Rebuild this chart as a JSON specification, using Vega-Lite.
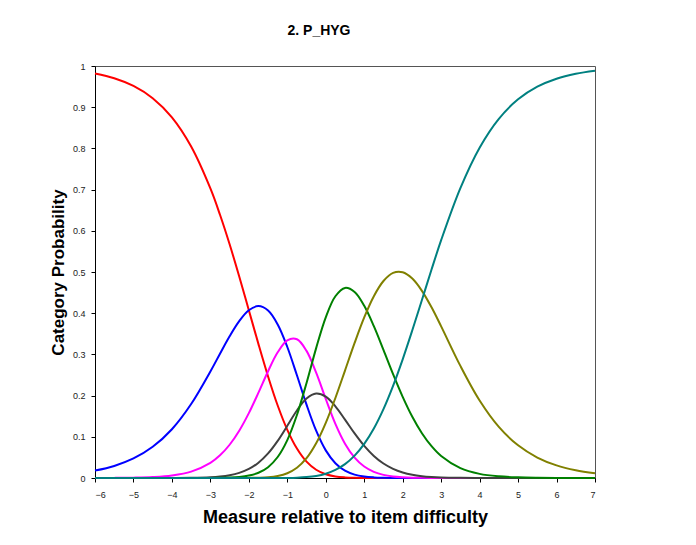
{
  "$schema": "https://vega.github.io/schema/vega-lite/v6.json",
  "width": 500,
  "height": 412,
  "autosize": "none",
  "padding": {"left": 95, "top": 66, "right": 101, "bottom": 67},
  "background": "white",
  "title": {"text": "2. P_HYG", "font": "Liberation Sans", "fontSize": 14, "fontWeight": "bold", "color": "#000000", "frame": "group", "anchor": "middle", "dx": -26, "baseline": "alphabetic", "offset": 13},
  "config": {
    "view": {"stroke": "#555555", "strokeWidth": 1},
    "axis": {"grid": false, "domainColor": "#000000", "domainWidth": 1, "tickColor": "#000000", "tickSize": 4, "labelFont": "Liberation Sans", "labelFontSize": 9, "labelColor": "#222222", "titleFont": "Liberation Sans", "titleFontWeight": "bold", "titleColor": "#000000"}
  },
  "data": {"values": [
    {"x":-6,"cat":"0","p":0.9819},{"x":-6,"cat":"1","p":0.0180},{"x":-6,"cat":"2","p":0.0001},{"x":-6,"cat":"3","p":0},{"x":-6,"cat":"4","p":0},{"x":-6,"cat":"5","p":0},{"x":-6,"cat":"6","p":0},
    {"x":-5.5,"cat":"0","p":0.9704},{"x":-5.5,"cat":"1","p":0.0293},{"x":-5.5,"cat":"2","p":0.0003},{"x":-5.5,"cat":"3","p":0},{"x":-5.5,"cat":"4","p":0},{"x":-5.5,"cat":"5","p":0},{"x":-5.5,"cat":"6","p":0},
    {"x":-5,"cat":"0","p":0.9517},{"x":-5,"cat":"1","p":0.0474},{"x":-5,"cat":"2","p":0.0009},{"x":-5,"cat":"3","p":0},{"x":-5,"cat":"4","p":0},{"x":-5,"cat":"5","p":0},{"x":-5,"cat":"6","p":0},
    {"x":-4.5,"cat":"0","p":0.9219},{"x":-4.5,"cat":"1","p":0.0757},{"x":-4.5,"cat":"2","p":0.0024},{"x":-4.5,"cat":"3","p":0},{"x":-4.5,"cat":"4","p":0},{"x":-4.5,"cat":"5","p":0},{"x":-4.5,"cat":"6","p":0},
    {"x":-4,"cat":"0","p":0.8753},{"x":-4,"cat":"1","p":0.1184},{"x":-4,"cat":"2","p":0.0062},{"x":-4,"cat":"3","p":0.0001},{"x":-4,"cat":"4","p":0},{"x":-4,"cat":"5","p":0},{"x":-4,"cat":"6","p":0},
    {"x":-3.5,"cat":"0","p":0.8045},{"x":-3.5,"cat":"1","p":0.1795},{"x":-3.5,"cat":"2","p":0.0155},{"x":-3.5,"cat":"3","p":0.0005},{"x":-3.5,"cat":"4","p":0},{"x":-3.5,"cat":"5","p":0},{"x":-3.5,"cat":"6","p":0},
    {"x":-3,"cat":"0","p":0.7027},{"x":-3,"cat":"1","p":0.2585},{"x":-3,"cat":"2","p":0.0368},{"x":-3,"cat":"3","p":0.0019},{"x":-3,"cat":"4","p":0.0002},{"x":-3,"cat":"5","p":0},{"x":-3,"cat":"6","p":0},
    {"x":-2.75,"cat":"0","p":0.6389},{"x":-2.75,"cat":"1","p":0.3018},{"x":-2.75,"cat":"2","p":0.0551},{"x":-2.75,"cat":"3","p":0.0036},{"x":-2.75,"cat":"4","p":0.0005},{"x":-2.75,"cat":"5","p":0},{"x":-2.75,"cat":"6","p":0},
    {"x":-2.5,"cat":"0","p":0.5673},{"x":-2.5,"cat":"1","p":0.3441},{"x":-2.5,"cat":"2","p":0.0807},{"x":-2.5,"cat":"3","p":0.0068},{"x":-2.5,"cat":"4","p":0.0011},{"x":-2.5,"cat":"5","p":0},{"x":-2.5,"cat":"6","p":0},
    {"x":-2.25,"cat":"0","p":0.4891},{"x":-2.25,"cat":"1","p":0.3809},{"x":-2.25,"cat":"2","p":0.1148},{"x":-2.25,"cat":"3","p":0.0125},{"x":-2.25,"cat":"4","p":0.0026},{"x":-2.25,"cat":"5","p":0.0001},{"x":-2.25,"cat":"6","p":0},
    {"x":-2,"cat":"0","p":0.4072},{"x":-2,"cat":"1","p":0.4072},{"x":-2,"cat":"2","p":0.1575},{"x":-2,"cat":"3","p":0.0219},{"x":-2,"cat":"4","p":0.0059},{"x":-2,"cat":"5","p":0.0003},{"x":-2,"cat":"6","p":0},
    {"x":-1.75,"cat":"0","p":0.3249},{"x":-1.75,"cat":"1","p":0.4172},{"x":-1.75,"cat":"2","p":0.2072},{"x":-1.75,"cat":"3","p":0.0371},{"x":-1.75,"cat":"4","p":0.0127},{"x":-1.75,"cat":"5","p":0.0008},{"x":-1.75,"cat":"6","p":0},
    {"x":-1.5,"cat":"0","p":0.2465},{"x":-1.5,"cat":"1","p":0.4065},{"x":-1.5,"cat":"2","p":0.2592},{"x":-1.5,"cat":"3","p":0.0596},{"x":-1.5,"cat":"4","p":0.0263},{"x":-1.5,"cat":"5","p":0.0020},{"x":-1.5,"cat":"6","p":0},
    {"x":-1.25,"cat":"0","p":0.1760},{"x":-1.25,"cat":"1","p":0.3727},{"x":-1.25,"cat":"2","p":0.3051},{"x":-1.25,"cat":"3","p":0.0901},{"x":-1.25,"cat":"4","p":0.0509},{"x":-1.25,"cat":"5","p":0.0050},{"x":-1.25,"cat":"6","p":0.0001},
    {"x":-1,"cat":"0","p":0.1170},{"x":-1,"cat":"1","p":0.3180},{"x":-1,"cat":"2","p":0.3343},{"x":-1,"cat":"3","p":0.1267},{"x":-1,"cat":"4","p":0.0920},{"x":-1,"cat":"5","p":0.0116},{"x":-1,"cat":"6","p":0.0003},
    {"x":-0.75,"cat":"0","p":0.0715},{"x":-0.75,"cat":"1","p":0.2494},{"x":-0.75,"cat":"2","p":0.3367},{"x":-0.75,"cat":"3","p":0.1639},{"x":-0.75,"cat":"4","p":0.1528},{"x":-0.75,"cat":"5","p":0.0248},{"x":-0.75,"cat":"6","p":0.0009},
    {"x":-0.5,"cat":"0","p":0.0397},{"x":-0.5,"cat":"1","p":0.1780},{"x":-0.5,"cat":"2","p":0.3085},{"x":-0.5,"cat":"3","p":0.1928},{"x":-0.5,"cat":"4","p":0.2308},{"x":-0.5,"cat":"5","p":0.0480},{"x":-0.5,"cat":"6","p":0.0023},
    {"x":-0.25,"cat":"0","p":0.0200},{"x":-0.25,"cat":"1","p":0.1148},{"x":-0.25,"cat":"2","p":0.2555},{"x":-0.25,"cat":"3","p":0.2051},{"x":-0.25,"cat":"4","p":0.3153},{"x":-0.25,"cat":"5","p":0.0842},{"x":-0.25,"cat":"6","p":0.0051},
    {"x":0,"cat":"0","p":0.0091},{"x":0,"cat":"1","p":0.0671},{"x":0,"cat":"2","p":0.1918},{"x":0,"cat":"3","p":0.1976},{"x":0,"cat":"4","p":0.3901},{"x":0,"cat":"5","p":0.1338},{"x":0,"cat":"6","p":0.0104},
    {"x":0.25,"cat":"0","p":0.0038},{"x":0.25,"cat":"1","p":0.0359},{"x":0.25,"cat":"2","p":0.1315},{"x":0.25,"cat":"3","p":0.1740},{"x":0.25,"cat":"4","p":0.4411},{"x":0.25,"cat":"5","p":0.1942},{"x":0.25,"cat":"6","p":0.0195},
    {"x":0.5,"cat":"0","p":0.0015},{"x":0.5,"cat":"1","p":0.0177},{"x":0.5,"cat":"2","p":0.0834},{"x":0.5,"cat":"3","p":0.1417},{"x":0.5,"cat":"4","p":0.4613},{"x":0.5,"cat":"5","p":0.2608},{"x":0.5,"cat":"6","p":0.0336},
    {"x":0.75,"cat":"0","p":0.0005},{"x":0.75,"cat":"1","p":0.0082},{"x":0.75,"cat":"2","p":0.0495},{"x":0.75,"cat":"3","p":0.1081},{"x":0.75,"cat":"4","p":0.4516},{"x":0.75,"cat":"5","p":0.3279},{"x":0.75,"cat":"6","p":0.0542},
    {"x":1,"cat":"0","p":0.0002},{"x":1,"cat":"1","p":0.0036},{"x":1,"cat":"2","p":0.0278},{"x":1,"cat":"3","p":0.0779},{"x":1,"cat":"4","p":0.4180},{"x":1,"cat":"5","p":0.3898},{"x":1,"cat":"6","p":0.0827},
    {"x":1.25,"cat":"0","p":0.0001},{"x":1.25,"cat":"1","p":0.0015},{"x":1.25,"cat":"2","p":0.0149},{"x":1.25,"cat":"3","p":0.0535},{"x":1.25,"cat":"4","p":0.3686},{"x":1.25,"cat":"5","p":0.4413},{"x":1.25,"cat":"6","p":0.1202},
    {"x":1.5,"cat":"0","p":0},{"x":1.5,"cat":"1","p":0.0006},{"x":1.5,"cat":"2","p":0.0076},{"x":1.5,"cat":"3","p":0.0351},{"x":1.5,"cat":"4","p":0.3111},{"x":1.5,"cat":"5","p":0.4782},{"x":1.5,"cat":"6","p":0.1673},
    {"x":1.75,"cat":"0","p":0},{"x":1.75,"cat":"1","p":0.0002},{"x":1.75,"cat":"2","p":0.0037},{"x":1.75,"cat":"3","p":0.0222},{"x":1.75,"cat":"4","p":0.2522},{"x":1.75,"cat":"5","p":0.4979},{"x":1.75,"cat":"6","p":0.2237},
    {"x":2,"cat":"0","p":0},{"x":2,"cat":"1","p":0.0001},{"x":2,"cat":"2","p":0.0018},{"x":2,"cat":"3","p":0.0135},{"x":2,"cat":"4","p":0.1971},{"x":2,"cat":"5","p":0.4994},{"x":2,"cat":"6","p":0.2881},
    {"x":2.25,"cat":"0","p":0},{"x":2.25,"cat":"1","p":0},{"x":2.25,"cat":"2","p":0.0008},{"x":2.25,"cat":"3","p":0.0079},{"x":2.25,"cat":"4","p":0.1487},{"x":2.25,"cat":"5","p":0.4840},{"x":2.25,"cat":"6","p":0.3585},
    {"x":2.5,"cat":"0","p":0},{"x":2.5,"cat":"1","p":0},{"x":2.5,"cat":"2","p":0.0004},{"x":2.5,"cat":"3","p":0.0045},{"x":2.5,"cat":"4","p":0.1087},{"x":2.5,"cat":"5","p":0.4543},{"x":2.5,"cat":"6","p":0.4321},
    {"x":2.75,"cat":"0","p":0},{"x":2.75,"cat":"1","p":0},{"x":2.75,"cat":"2","p":0.0002},{"x":2.75,"cat":"3","p":0.0025},{"x":2.75,"cat":"4","p":0.0772},{"x":2.75,"cat":"5","p":0.4142},{"x":2.75,"cat":"6","p":0.5059},
    {"x":3,"cat":"0","p":0},{"x":3,"cat":"1","p":0},{"x":3,"cat":"2","p":0.0001},{"x":3,"cat":"3","p":0.0013},{"x":3,"cat":"4","p":0.0534},{"x":3,"cat":"5","p":0.3680},{"x":3,"cat":"6","p":0.5772},
    {"x":3.5,"cat":"0","p":0},{"x":3.5,"cat":"1","p":0},{"x":3.5,"cat":"2","p":0},{"x":3.5,"cat":"3","p":0.0004},{"x":3.5,"cat":"4","p":0.0239},{"x":3.5,"cat":"5","p":0.2721},{"x":3.5,"cat":"6","p":0.7036},
    {"x":4,"cat":"0","p":0},{"x":4,"cat":"1","p":0},{"x":4,"cat":"2","p":0},{"x":4,"cat":"3","p":0.0001},{"x":4,"cat":"4","p":0.0100},{"x":4,"cat":"5","p":0.1881},{"x":4,"cat":"6","p":0.8018},
    {"x":4.5,"cat":"0","p":0},{"x":4.5,"cat":"1","p":0},{"x":4.5,"cat":"2","p":0},{"x":4.5,"cat":"3","p":0},{"x":4.5,"cat":"4","p":0.0040},{"x":4.5,"cat":"5","p":0.1241},{"x":4.5,"cat":"6","p":0.8719},
    {"x":5,"cat":"0","p":0},{"x":5,"cat":"1","p":0},{"x":5,"cat":"2","p":0},{"x":5,"cat":"3","p":0},{"x":5,"cat":"4","p":0.0016},{"x":5,"cat":"5","p":0.0793},{"x":5,"cat":"6","p":0.9191},
    {"x":5.5,"cat":"0","p":0},{"x":5.5,"cat":"1","p":0},{"x":5.5,"cat":"2","p":0},{"x":5.5,"cat":"3","p":0},{"x":5.5,"cat":"4","p":0.0006},{"x":5.5,"cat":"5","p":0.0497},{"x":5.5,"cat":"6","p":0.9497},
    {"x":6,"cat":"0","p":0},{"x":6,"cat":"1","p":0},{"x":6,"cat":"2","p":0},{"x":6,"cat":"3","p":0},{"x":6,"cat":"4","p":0.0002},{"x":6,"cat":"5","p":0.0307},{"x":6,"cat":"6","p":0.9691},
    {"x":6.5,"cat":"0","p":0},{"x":6.5,"cat":"1","p":0},{"x":6.5,"cat":"2","p":0},{"x":6.5,"cat":"3","p":0},{"x":6.5,"cat":"4","p":0.0001},{"x":6.5,"cat":"5","p":0.0189},{"x":6.5,"cat":"6","p":0.9810},
    {"x":7,"cat":"0","p":0},{"x":7,"cat":"1","p":0},{"x":7,"cat":"2","p":0},{"x":7,"cat":"3","p":0},{"x":7,"cat":"4","p":0},{"x":7,"cat":"5","p":0.0115},{"x":7,"cat":"6","p":0.9884}
  ]},
  "mark": {"type": "line", "interpolate": "catmull-rom", "strokeWidth": 2},
  "encoding": {
    "x": {
      "field": "x", "type": "quantitative",
      "scale": {"domain": [-6, 7], "nice": false, "zero": false},
      "axis": {"values": [-6,-5,-4,-3,-2,-1,0,1,2,3,4,5,6,7], "format": "d", "labelPadding": 8, "title": "Measure relative to item difficulty", "titleFontSize": 18, "titleBaseline": "alphabetic", "titleY": 44, "titleAnchor": "middle"}
    },
    "y": {
      "field": "p", "type": "quantitative",
      "scale": {"domain": [0, 1], "nice": false},
      "axis": {"values": [0,0.1,0.2,0.3,0.4,0.5,0.6,0.7,0.8,0.9,1], "format": ".1~f", "labelPadding": 6, "title": "Category Probability", "titleFontSize": 17, "titleBaseline": "alphabetic", "titleX": -32, "titleY": 206}
    },
    "color": {
      "field": "cat", "type": "nominal",
      "scale": {"domain": ["0","1","2","3","4","5","6"], "range": ["#FF0000","#0000FF","#FF00FF","#404040","#008000","#808000","#008080"]},
      "legend": null
    }
  }
}
